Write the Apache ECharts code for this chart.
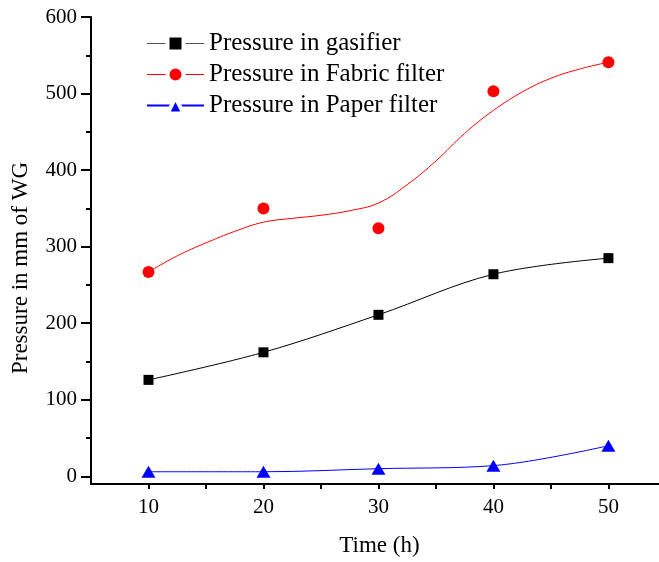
<!DOCTYPE html>
<html>
<head>
<meta charset="utf-8">
<script src="https://cdn.jsdelivr.net/npm/echarts@6/dist/echarts.min.js"></script>
<style>
  html, body { margin: 0; padding: 0; background: #fff; }
  #chart { width: 659px; height: 562px; }
</style>
</head>
<body>
<div id="chart"></div>
<script>
// Measured pressures (mm of water gauge) against running time (h)
const timeHours = [10, 20, 30, 40, 50];
const gasifier = [126, 162, 211, 264, 285];
const fabricFilter = [267, 350, 324, 503, 541];
const paperFilter = [6, 6, 10, 14, 40];

// Fitted trend curve through the fabric-filter readings
const fabricFitTime = [10, 12.5, 15, 17.5, 20, 22.5, 25, 27.5, 30, 32.5, 35, 37.5, 40, 42.5, 45, 47.5, 50];
const fabricFitValue = [267, 288, 305, 320, 332, 337, 341, 347, 357, 381, 412, 448, 478, 502, 520, 532, 541];

// Axis tick positions
const xMajorTicks = [10, 20, 30, 40, 50];
const xAllTicks = [10, 15, 20, 25, 30, 35, 40, 45, 50];
const yMajorTicks = [0, 100, 200, 300, 400, 500, 600];
const yMinorTicks = [50, 150, 250, 350, 450, 550];

const FONT = 'Liberation Serif, Times New Roman, serif';
const pairs = (xs, ys) => xs.map((x, i) => [x, ys[i]]);

const chart = echarts.init(document.getElementById('chart'), null, { renderer: 'canvas' });

chart.setOption({
  animation: false,
  backgroundColor: '#fff',
  grid: { left: 91, right: 0, top: 17, bottom: 75, containLabel: false },
  legend: {
    left: 146,
    top: 31,
    orient: 'vertical',
    padding: 0,
    itemWidth: 57,
    itemHeight: 20,
    itemGap: 6,
    // white ring round each key marker so the key line stops short of it
    itemStyle: { borderColor: '#fff', borderWidth: 4 },
    textStyle: { fontFamily: FONT, fontSize: 25, color: '#000' },
    data: [
      { name: 'Pressure in gasifier', lineStyle: { color: '#555', width: 1, opacity: 1 } },
      { name: 'Pressure in Fabric filter', lineStyle: { color: '#ff0000', width: 1, opacity: 1 } },
      { name: 'Pressure in Paper filter' }
    ]
  },
  xAxis: [{
    type: 'value',
    min: 5,
    max: 54.4,
    name: 'Time (h)',
    nameLocation: 'middle',
    nameGap: 50,
    nameTextStyle: { fontFamily: FONT, fontSize: 23, color: '#000', padding: [0, 0, 0, 9] },
    axisLine: { show: true, onZero: false, lineStyle: { color: '#000', width: 2 } },
    axisTick: { show: true, inside: false, length: 5, customValues: xAllTicks, lineStyle: { color: '#000', width: 2 } },
    axisLabel: { show: true, margin: 13, customValues: xMajorTicks, fontFamily: FONT, fontSize: 21, color: '#000' },
    splitLine: { show: false }
  }],
  yAxis: [{
    type: 'value',
    min: -10,
    max: 600,
    position: 'left',
    axisLine: { show: true, onZero: false, lineStyle: { color: '#000', width: 2 } },
    axisTick: { show: true, inside: false, length: 10, customValues: yMajorTicks, lineStyle: { color: '#000', width: 2 } },
    axisLabel: { show: true, margin: 14, customValues: yMajorTicks, fontFamily: FONT, fontSize: 21, color: '#000' },
    splitLine: { show: false }
  }, {
    type: 'value',
    min: -10,
    max: 600,
    position: 'left',
    axisLine: { show: false },
    axisTick: { show: true, inside: false, length: 5, customValues: yMinorTicks, lineStyle: { color: '#000', width: 2 } },
    axisLabel: { show: false },
    splitLine: { show: false }
  }],
  graphic: [{
    type: 'text',
    x: 21,
    y: 268,
    rotation: Math.PI / 2,
    style: {
      text: 'Pressure in mm of WG',
      fontFamily: FONT,
      fontSize: 23,
      fill: '#000',
      align: 'center',
      verticalAlign: 'middle'
    }
  }],
  series: [
    {
      name: 'Pressure in gasifier',
      type: 'line',
      data: pairs(timeHours, gasifier),
      smooth: 0.35,
      symbol: 'rect',
      symbolSize: 10,
      itemStyle: { color: '#000' },
      lineStyle: { color: '#000', width: 1 },
      z: 3
    },
    {
      name: 'Fabric filter trend',
      type: 'line',
      data: pairs(fabricFitTime, fabricFitValue),
      smooth: 0.4,
      showSymbol: false,
      symbol: 'none',
      silent: true,
      lineStyle: { color: '#ff0000', width: 1 },
      z: 2
    },
    {
      name: 'Pressure in Fabric filter',
      type: 'line',
      data: pairs(timeHours, fabricFilter),
      symbol: 'circle',
      symbolSize: 12,
      itemStyle: { color: '#ff0000' },
      lineStyle: { color: '#ff0000', width: 1, opacity: 0 },
      z: 3
    },
    {
      name: 'Pressure in Paper filter',
      type: 'line',
      data: pairs(timeHours, paperFilter),
      smooth: 0.35,
      symbol: 'triangle',
      symbolSize: [14, 12],
      itemStyle: { color: '#0000ff' },
      lineStyle: { color: '#0000ff', width: 1 },
      z: 3
    }
  ]
});
</script>
</body>
</html>
